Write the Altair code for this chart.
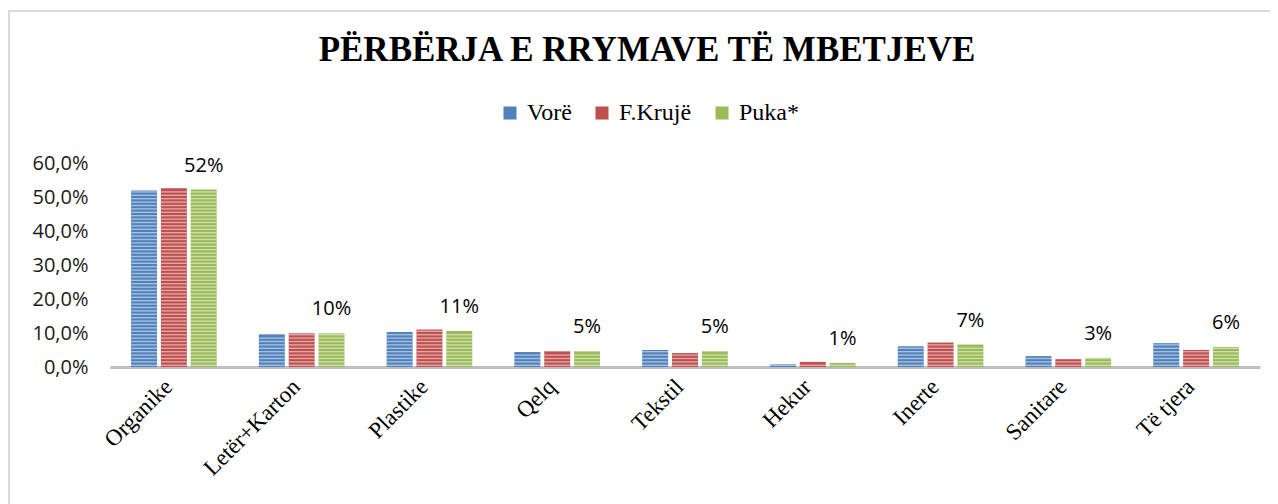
import altair as alt
import pandas as pd

title_text = ["PËRBËRJA E RRYMAVE TË MBETJEVE"]
categories = ["Organike", "Letër+Karton", "Plastike", "Qelq", "Tekstil",
              "Hekur", "Inerte", "Sanitare", "Të tjera"]
series = ["Vorë", "F.Krujë", "Puka*"]
vore = [51.9, 9.6, 10.3, 4.4, 5.0, 0.8, 6.1, 3.2, 7.0]
fkruje = [52.6, 9.9, 11.0, 4.6, 4.1, 1.5, 7.2, 2.3, 5.0]
puka = [52.2, 9.9, 10.6, 4.6, 4.6, 1.2, 6.6, 2.7, 5.9]
colors = ["#4f81bd", "#c0504d", "#9bbb59"]
y_ticks = [0, 10, 20, 30, 40, 50, 60]

rows = []
for name, vals in zip(series, [vore, fkruje, puka]):
    for c, v in zip(categories, vals):
        rows.append({"cat": c, "series": name, "value": v})
df = pd.DataFrame(rows)

# decorative horizontal stripes inside each bar (one per percent)
stripes = []
for r in rows:
    k = 0
    while k + 0.65 <= r["value"]:
        stripes.append({"cat": r["cat"], "series": r["series"],
                        "s0": k + 0.3, "s1": k + 0.7})
        k += 1
sdf = pd.DataFrame(stripes)

lab = pd.DataFrame({"cat": categories, "series": ["Puka*"] * len(categories),
                    "value": puka})
tdf = pd.DataFrame({"t": title_text})

x_axis = alt.Axis(labelAngle=-45, labelFont="Liberation Serif",
                  labelFontSize=23, labelFontWeight="normal",
                  labelColor="#000000", title=None,
                  domainColor="#bfbfbf", domainWidth=3,
                  ticks=False, labelPadding=8, labelOffset=-13)
y_axis = alt.Axis(values=y_ticks, grid=False, domain=False, title=None,
                  ticks=False, labelFont="Open Sans",
                  labelFontSize=20, labelFontWeight="normal",
                  labelColor="#1a1a1a", labelOverlap=False,
                  labelPadding=22,
                  labelExpr="replace(format(datum.value, '.1f'), '.', ',') + '%'")
x_scale = alt.Scale(paddingInner=0.33, paddingOuter=0.165)
y_scale = alt.Scale(domain=[0, 60], nice=False)
xo_scale = alt.Scale(paddingInner=0.13)


def xe():
    return alt.X("cat:N", sort=categories, title=None, scale=x_scale, axis=x_axis)


def xoe():
    return alt.XOffset("series:N", sort=series, scale=xo_scale)


bars = alt.Chart(df).mark_bar().encode(
    x=xe(), xOffset=xoe(),
    y=alt.Y("value:Q", title=None, scale=y_scale, axis=y_axis),
    color=alt.Color("series:N", sort=series,
                    scale=alt.Scale(domain=series, range=colors),
                    legend=alt.Legend(title=None, orient="none",
                                      legendX=388, legendY=-62,
                                      direction="horizontal",
                                      labelFont="Liberation Serif",
                                      labelFontSize=24,
                                      labelFontWeight="normal",
                                      labelColor="#000000",
                                      symbolType="square", symbolSize=170,
                                      symbolStrokeWidth=0,
                                      columnPadding=18, labelOffset=5)),
)

stripe_layer = alt.Chart(sdf).mark_bar(color="#ffffff", opacity=0.5).encode(
    x=xe(), xOffset=xoe(),
    y=alt.Y("s0:Q", title=None, scale=y_scale, axis=y_axis), y2="s1:Q",
)

labels = alt.Chart(lab).mark_text(font="Open Sans", fontSize=20,
                                  fontWeight="normal",
                                  color="#000000", dy=-24,
                                  baseline="middle").transform_calculate(
    pct="format(datum.value, '.0f') + '%'"
).encode(
    x=xe(), xOffset=xoe(),
    y=alt.Y("value:Q", title=None, scale=y_scale, axis=y_axis),
    text="pct:N",
)

title = alt.Chart(tdf).mark_text(font="Liberation Serif", fontSize=35,
                                 fontWeight="bold", color="#000000",
                                 align="center", baseline="middle").encode(
    x=alt.value(537), y=alt.value(-113), text="t:N")

frame_left = alt.Chart(tdf).mark_rule(color="#d9d9d9", strokeWidth=2).encode(
    x=alt.value(-101), y=alt.value(-152), y2=alt.value(400))
frame_top = alt.Chart(tdf).mark_rule(color="#d9d9d9", strokeWidth=2).encode(
    x=alt.value(-102), x2=alt.value(1300), y=alt.value(-152))

chart = alt.layer(frame_left, frame_top, bars, stripe_layer, labels,
                  title).properties(
    width=1150, height=204,
    padding={"left": 102, "top": 155, "right": 10, "bottom": 137},
    autosize=alt.AutoSizeParams(type="none"),
).configure_view(strokeWidth=0)

chart.save("out.html", embed_options={"renderer": "svg", "actions": False})
